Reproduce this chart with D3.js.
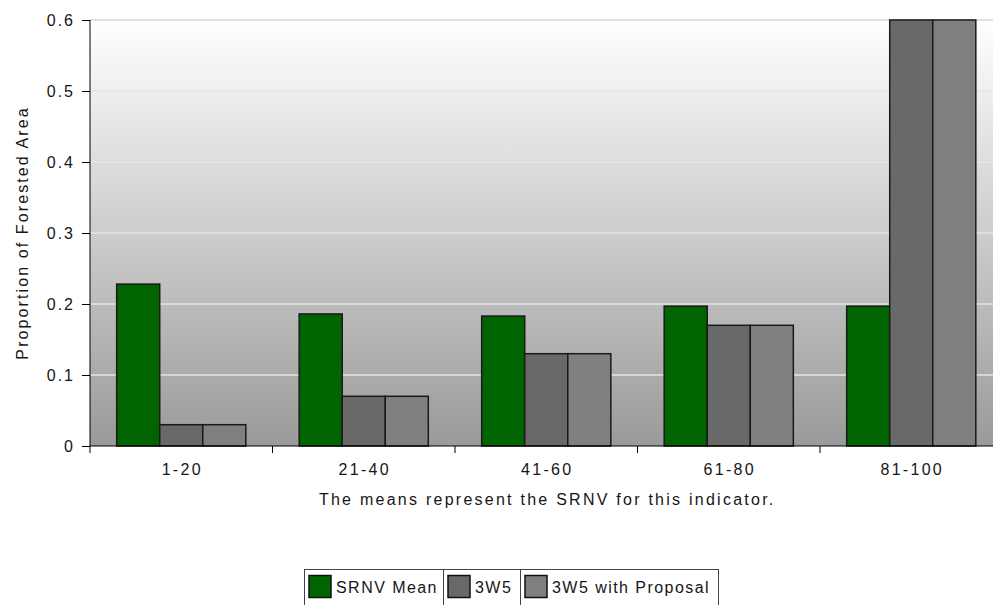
<!DOCTYPE html>
<html><head><meta charset="utf-8">
<script src="https://cdn.jsdelivr.net/npm/d3@7"></script>
<style>body{margin:0;background:#fff;}svg{display:block;font-family:"Liberation Sans",Arial,sans-serif;}</style>
</head><body>
<svg id="chart" width="993" height="605"></svg>
<script>
const categories = ["1-20","21-40","41-60","61-80","81-100"];
const seriesNames = ["SRNV Mean","3W5","3W5 with Proposal"];
const srnvMean = [0.228,0.186,0.183,0.197,0.197];
const w3w5 = [0.03,0.07,0.13,0.17,0.6];
const w3w5Proposal = [0.03,0.07,0.13,0.17,0.6];
const yTicks = [0,0.1,0.2,0.3,0.4,0.5,0.6];
const colors = ["#006400","#696969","#808080"];

const series = [srnvMean, w3w5, w3w5Proposal];
const svg = d3.select("#chart");
const m = {left:90, top:20, bottom:446};
const plotRight = 90 + 5*182.5;
const x = d3.scaleBand().domain(categories).range([m.left, plotRight]).paddingInner(0).paddingOuter(0);
const x1 = d3.scaleBand().domain(seriesNames).range([0, x.bandwidth()]).paddingOuter(0.62).paddingInner(0);
const y = d3.scaleLinear().domain([0,0.6]).range([m.bottom, m.top]);

const defs = svg.append("defs");
const grad = defs.append("linearGradient").attr("id","bg").attr("x1",0).attr("y1",0).attr("x2",0).attr("y2",1);
grad.append("stop").attr("offset","0%").attr("stop-color","#ffffff");
grad.append("stop").attr("offset","100%").attr("stop-color","#9a9a9a");

svg.append("rect").attr("x",m.left).attr("y",m.top).attr("width",993-m.left).attr("height",m.bottom-m.top).attr("fill","url(#bg)");

// gridlines
svg.append("g").selectAll("line").data(yTicks.filter(d=>d>0)).join("line")
  .attr("x1",m.left).attr("x2",993).attr("y1",d=>y(d)).attr("y2",d=>y(d))
  .attr("stroke",d=>d===0.6?"#d4d4d4":"#e4e4e4").attr("stroke-width",1.5);

// bars
const groups = svg.append("g").selectAll("g").data(categories).join("g")
  .attr("transform",d=>`translate(${x(d)},0)`);
groups.selectAll("rect").data((c,i)=>seriesNames.map((s,j)=>({s, v:series[j][i], j}))).join("rect")
  .attr("x",d=>x1(d.s)).attr("width",x1.bandwidth())
  .attr("y",d=>y(d.v)).attr("height",d=>y(0)-y(d.v))
  .attr("fill",d=>colors[d.j]).attr("stroke","#1a1a1a").attr("stroke-width",1.5);

const txt = sel => sel.attr("font-size",16).attr("fill","#161616").attr("font-family","Liberation Sans, Arial, sans-serif");

// y axis
const yAxis = d3.axisLeft(y).tickValues(yTicks).tickSize(8).tickPadding(7).tickFormat(d=>d===0?"0":d3.format(".1f")(d));
const ya = svg.append("g").attr("transform",`translate(${m.left},0)`).call(yAxis);
ya.select(".domain").remove();
ya.append("line").attr("x1",0).attr("x2",0).attr("y1",m.top).attr("y2",m.bottom+7).attr("stroke","#000");
ya.selectAll("text").call(txt).attr("letter-spacing","2px").attr("dy","0.35em");
ya.selectAll(".tick line").attr("stroke","#000");

// x axis
const xa = svg.append("g").attr("transform",`translate(0,${m.bottom})`);
xa.append("line").attr("x1",m.left).attr("x2",993).attr("y1",0).attr("y2",0).attr("stroke","#000");
xa.selectAll("line.tk").data(categories.slice(1)).join("line").attr("class","tk")
  .attr("x1",d=>x(d)).attr("x2",d=>x(d)).attr("y1",0).attr("y2",7).attr("stroke","#000");
xa.selectAll("text").data(categories).join("text")
  .attr("x",d=>x(d)+x.bandwidth()/2+1).attr("y",29).attr("text-anchor","middle")
  .call(txt).attr("letter-spacing","2.3px").text(d=>d);

// titles
svg.append("text").attr("transform",`translate(28,233) rotate(-90)`).attr("text-anchor","middle")
  .call(txt).attr("letter-spacing","2.1px").text("Proportion of Forested Area");
svg.append("text").attr("x",(m.left+plotRight)/2+1).attr("y",505).attr("text-anchor","middle")
  .call(txt).attr("letter-spacing","2.25px").text("The means represent the SRNV for this indicator.");

// legend
const lg = svg.append("g").attr("transform","translate(304,569)");
const cellW = [139,77,198];
let cx = 0;
const cells = [];
cellW.forEach((w,i)=>{cells.push(cx); cx+=w;});
lg.append("rect").attr("x",0.5).attr("y",0.5).attr("width",cx).attr("height",40).attr("fill","#fff").attr("stroke","#444");
seriesNames.forEach((s,i)=>{
  const g = lg.append("g").attr("transform",`translate(${cells[i]},0)`);
  if(i>0) g.append("line").attr("x1",0.5).attr("x2",0.5).attr("y1",0).attr("y2",40).attr("stroke","#444");
  g.append("rect").attr("x",5).attr("y",6.5).attr("width",22).attr("height",22).attr("fill",colors[i]).attr("stroke","#111").attr("stroke-width",1.5);
  g.append("text").attr("x",32).attr("y",24).call(txt).attr("letter-spacing","1.45px").text(s);
});
</script>
</body></html>
